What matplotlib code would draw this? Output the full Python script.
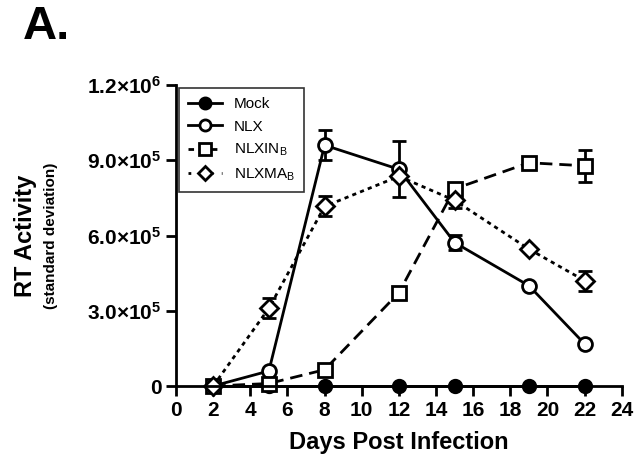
import numpy as np
import matplotlib
matplotlib.use('Agg')
import matplotlib.pyplot as plt
from matplotlib.lines import Line2D

plt.rcParams['font.family'] = ['Liberation Sans', 'DejaVu Sans']
plt.rcParams['mathtext.fontset'] = 'custom'
plt.rcParams['mathtext.rm'] = 'Liberation Sans:bold'
plt.rcParams['mathtext.it'] = 'Liberation Sans:bold'
plt.rcParams['mathtext.bf'] = 'Liberation Sans:bold'
plt.rcParams['mathtext.sf'] = 'Liberation Sans'

# Data
days = [2, 5, 8, 12, 15, 19, 22]
mock = [0, 0, 0, 0, 0, 0, 0]
nlx = [0, 60000, 960000, 864000, 572000, 400000, 168000]
nlx_err = [0, 0, 60000, 112000, 30000, 0, 0]
nlxin = [0, 10000, 65000, 372000, 786000, 890000, 878000]
nlxin_err = [0, 0, 0, 0, 0, 0, 64000]
nlxma = [0, 310000, 716000, 836000, 740000, 546000, 420000]
nlxma_err = [0, 40000, 40000, 0, 30000, 0, 40000]

yticks = [0, 300000, 600000, 900000, 1200000]
ytick_labels = ['0', r'3.0$\times$10$^5$', r'6.0$\times$10$^5$',
                r'9.0$\times$10$^5$', r'1.2$\times$10$^6$']
xticks = list(range(0, 25, 2))

fig = plt.figure(figsize=(6.41, 4.67), dpi=100)
ax = fig.add_axes([0.2746, 0.1734, 0.6954, 0.6446])

lw = 2
dash = (0, (4.5, 2.5))
dot = (0, (1.5, 1.5))
common = dict(color='black', linewidth=lw, markeredgewidth=2,
              capsize=5, capthick=2, elinewidth=2, clip_on=False)

ax.errorbar(days, mock, fmt='-o', markerfacecolor='black', markersize=9, **common)
ax.errorbar(days, nlx, yerr=nlx_err, fmt='-o', markerfacecolor='white',
            markersize=10, **common)
ax.errorbar(days, nlxin, yerr=nlxin_err, fmt='s', linestyle=dash,
            markerfacecolor='white', markersize=10, **common)
ax.errorbar(days, nlxma, yerr=nlxma_err, fmt='D', linestyle=dot,
            markerfacecolor='white', markersize=9, **common)

ax.set_xlim(0, 24)
ax.set_ylim(0, 1200000)
ax.set_xticks(xticks)
ax.set_yticks(yticks)
ax.set_yticklabels(ytick_labels)

for side in ['top', 'right']:
    ax.spines[side].set_visible(False)
for side in ['left', 'bottom']:
    ax.spines[side].set_linewidth(2)

ax.tick_params(axis='both', width=2, length=7, labelsize=15)
for lab in ax.get_xticklabels() + ax.get_yticklabels():
    lab.set_fontweight('bold')

ax.set_xlabel('Days Post Infection', fontsize=17, fontweight='bold', labelpad=8)
fig.text(0.040, 0.495, 'RT Activity', rotation=90, fontsize=17,
         fontweight='bold', ha='center', va='center')
fig.text(0.079, 0.495, '(standard deviation)', rotation=90, fontsize=11,
         fontweight='bold', ha='center', va='center')

fig.text(0.035, 0.942, 'A.', fontsize=34, fontweight='bold', ha='left', va='center')

# legend: plain lines with markers, no error bars
kw = dict(color='black', linewidth=lw, markeredgewidth=2, markersize=8)
handles = [
    Line2D([], [], marker='o', markerfacecolor='black', **kw),
    Line2D([], [], marker='o', markerfacecolor='white', **kw),
    Line2D([], [], marker='s', markerfacecolor='white', linestyle=(0, (2, 2.2)), **kw),
    Line2D([], [], marker='D', markerfacecolor='white', linestyle=(0, (1, 3)),
           **{**kw, 'markersize': 7}),
]
labels = ['Mock', 'NLX', r'NLXIN$_\mathsf{B}$', r'NLXMA$_\mathsf{B}$']
leg = ax.legend(handles, labels, loc='upper left', bbox_to_anchor=(0.0, 1.0),
                fontsize=11, frameon=True, fancybox=False, edgecolor='black',
                handlelength=2.2, handletextpad=0.8, borderpad=0.6,
                labelspacing=0.55, borderaxespad=0.2)
leg.get_frame().set_linewidth(1.2)

fig.savefig('out.png', dpi=100)
